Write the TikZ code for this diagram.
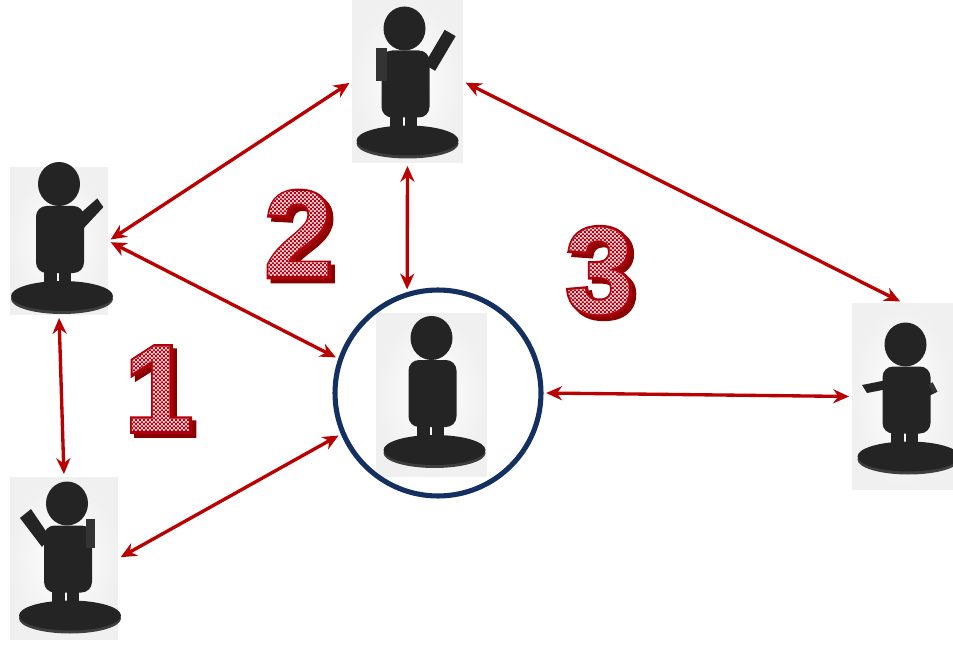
\documentclass[tikz,border=0pt]{standalone}
\usepackage{fontspec}
\usetikzlibrary{arrows.meta,patterns.meta,fadings}

\newfontface\digitfont{Liberation Sans Bold}
\newfontface\digitrimfont{Liberation Sans Bold}[FakeBold=4]
\newcommand\digitsize{\fontsize{70}{70}\selectfont}
% digit with its drop shadow behind it
\newcommand\shadowed[1]{\rlap{\smash{\kern2.3pt\raisebox{-2.3pt}{\color{digitshade}#1}}}#1}

\definecolor{linkred}{RGB}{186,0,0}
\definecolor{ringblue}{RGB}{20,48,96}
\definecolor{digitred}{RGB}{188,0,16}
\definecolor{digitrim}{RGB}{172,0,10}
\definecolor{digitshade}{RGB}{140,0,0}
\definecolor{digitpale}{RGB}{244,208,212}
\definecolor{figdark}{RGB}{36,36,36}
\definecolor{figrim}{RGB}{62,62,62}
\definecolor{figside}{RGB}{52,52,52}

% small red/white checks for the big numbers
\tikzdeclarepattern{
  name=checks,
  type=uncolored,
  bottom left={(0pt,0pt)},
  top right={(2.2pt,2.2pt)},
  tile size={(2.2pt,2.2pt)},
  code={
    \fill (0pt,0pt) rectangle (1.1pt,1.1pt);
    \fill (1.1pt,1.1pt) rectangle (2.2pt,2.2pt);
  }
}

\tikzset{
  figbox/.style={rectangle, inner sep=0pt, inner color=white, outer color=black!6},
  hubring/.style={circle, draw=ringblue, line width=2.9pt, inner sep=0pt, minimum size=4.12cm},
  linkarrow/.style={draw=linkred, line width=1.9pt,
    {Stealth[length=9pt,width=8pt]}-{Stealth[length=9pt,width=8pt]},
    shorten <=1.5pt, shorten >=1.5pt},
  bigdigit/.style={inner sep=0pt, text=digitrim, font=\digitrimfont\digitsize},
  checkfill/.style 2 args={path fading=#1, fit fading=false,
    fading transform={shift={(#2.center)}}},
  pics/person/.style={code={
    % stand
    \fill[figrim] (3,58) ellipse [x radius=51, y radius=15];
    \fill[figdark] (3,55) ellipse [x radius=51, y radius=15];
    % legs
    \fill[figdark] (-15,25) rectangle (-2,58);
    \fill[figdark] (0,25) rectangle (12,55);
    % body and head
    \fill[figdark, rounded corners=6pt] (-23,32) -- (-23,-35) -- (25,-35) -- (25,32) -- cycle;
    \fill[figdark] (0,-57) ellipse [x radius=21, y radius=22];
  }},
}

\begin{document}
% masks for the numbers
\pgfdeclarefading{digitone}{\color{white}\digitfont\digitsize 1}
\pgfdeclarefading{digittwo}{\color{white}\digitfont\digitsize 2}
\pgfdeclarefading{digitthree}{\color{white}\digitfont\digitsize 3}

\begin{tikzpicture}[x=0.02cm,y=-0.02cm]
  \fill[white] (0,0) rectangle (953,645);
  \useasboundingbox (0,0) rectangle (953,645);

  % photo boxes
  \node[figbox, minimum width=2.22cm, minimum height=3.26cm] (figtop) at (407.5,81.5) {};
  \node[figbox, minimum width=1.96cm, minimum height=2.96cm] (figleft) at (59,241) {};
  \node[figbox, minimum width=2.16cm, minimum height=3.26cm] (figbottom) at (64,558.5) {};
  \node[figbox, minimum width=2.22cm, minimum height=3.28cm] (figcentre) at (431.5,395) {};
  \node[figbox, minimum width=2.02cm, minimum height=3.74cm] (figright) at (902.5,396.5) {};

  % figures
  \begin{scope}[shift={(figtop.center)}, shift={(-3,4)}, scale=1.05]
    \pic {person};
    \fill[figside] (-27,-36) rectangle (-17,-4);
    \fill[figdark] (18.8,-20) -- (38.3,-53) -- (48.7,-47) -- (29.2,-14) -- cycle;
  \end{scope}
  \begin{scope}[shift={(figleft.center)}, scale=0.87]
    \pic {person};
    \fill[figdark] (18,-26) -- (44,-49) -- (51,-39) -- (24,-10) -- cycle;
  \end{scope}
  \begin{scope}[shift={(figbottom.center)}, shift={(3,2)}, scale=1.05]
    \pic {person};
    \fill[figside] (18,-40) rectangle (27,-12);
    \fill[figdark] (-44.8,-40.5) -- (-34.3,-49) -- (-16.2,-22.4) -- (-23.8,-12.9) -- cycle;
  \end{scope}
  \begin{scope}[shift={(figcentre.center)}]
    \pic {person};
  \end{scope}
  \begin{scope}[shift={(figright.center)}, shift={(3,5)}, scale=1.05]
    \pic {person};
    \fill[figdark] (-41.4,-15.7) -- (-17.6,-20.5) -- (-11.9,-12.9) -- (-36.7,-8.1) -- cycle;
    \fill[figdark] (2,-5.8) -- (25.7,-18.2) -- (30.3,-9.4) -- (6.6,3) -- cycle;
    \fill[figside] (22,-16) -- (25.7,-18.2) -- (30.3,-9.4) -- (26.5,-7.5) -- cycle;
  \end{scope}

  \node[hubring] (hub) at (438,393) {};

  % links
  \draw[linkarrow] (figtop.west) -- (figleft.east);
  \draw[linkarrow] (figleft.east) -- (hub.161);
  \draw[linkarrow] (figleft.south) -- (figbottom.north);
  \draw[linkarrow] (figbottom.east) -- (hub.203);
  \draw[linkarrow] (figtop.south) -- (hub.107);
  \draw[linkarrow] (figtop.east) -- (figright.north);
  \draw[linkarrow] (hub.east) -- (figright.west);

  % numbers
  \node[bigdigit] (one) at (159,389) {\shadowed{1}};
  \fill[digitpale, checkfill={digitone}{one}] (one.south west) rectangle (one.north east);
  \fill[pattern=checks, pattern color=digitred, checkfill={digitone}{one}] (one.south west) rectangle (one.north east);

  \node[bigdigit] (two) at (299,234) {\shadowed{2}};
  \fill[digitpale, checkfill={digittwo}{two}] (two.south west) rectangle (two.north east);
  \fill[pattern=checks, pattern color=digitred, checkfill={digittwo}{two}] (two.south west) rectangle (two.north east);

  \node[bigdigit] (three) at (600,271) {\shadowed{3}};
  \fill[digitpale, checkfill={digitthree}{three}] (three.south west) rectangle (three.north east);
  \fill[pattern=checks, pattern color=digitred, checkfill={digitthree}{three}] (three.south west) rectangle (three.north east);
\end{tikzpicture}
\end{document}
